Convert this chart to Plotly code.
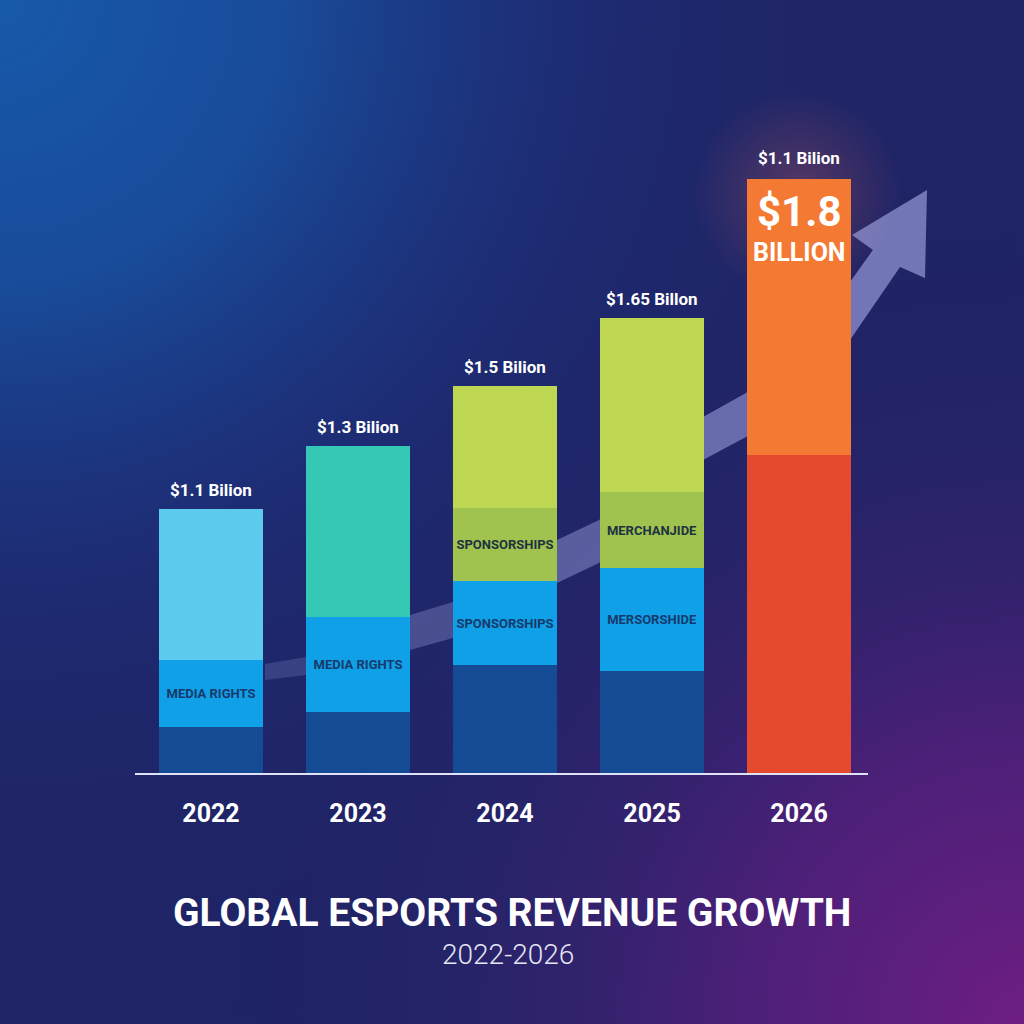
import base64
import plotly.graph_objects as go

# ---------------- data ----------------
years = ["2022", "2023", "2024", "2025", "2026"]
# stacked segment heights (chart units), bottom -> top
seg_base = [0.46, 0.61, 1.08, 1.02, 3.18]
seg_mid = [0.67, 0.95, 0.84, 1.03, 2.76]
seg_upper = [1.51, 1.71, 0.73, 0.76, None]
seg_top = [None, None, 1.22, 1.74, None]

base_colors = ["#154b94", "#154b94", "#154b94", "#154b94", "#e5492e"]
mid_colors = ["#10a0e8", "#10a0e8", "#10a0e8", "#10a0e8", "#f47a33"]
upper_colors = ["#5ccbee", "#35c8b5", "#a0c24f", "#a0c24f", "#a0c24f"]
top_colors = ["#bdd752"] * 5

mid_text = ["MEDIA RIGHTS", "MEDIA RIGHTS", "SPONSORSHIPS", "MERSORSHIDE", ""]
upper_text = ["", "", "SPONSORSHIPS", "MERCHANJIDE", ""]

value_labels = ["$1.1 Bilion", "$1.3 Bilion", "$1.5 Bilion", "$1.65 Billon", "$1.1 Bilion"]
highlight_value = "$1.8"
highlight_unit = "BILLION"
title_text = "GLOBAL ESPORTS REVENUE GROWTH"
subtitle_text = "2022-2026"

FONT = "Roboto, Liberation Sans, sans-serif"
W = H = 1024

# ---------------- background (svg gradient) ----------------
svg = f"""<svg xmlns='http://www.w3.org/2000/svg' width='{W}' height='{H}' viewBox='0 0 {W} {H}'>
<defs>
<radialGradient id='tl' gradientUnits='userSpaceOnUse' cx='0' cy='0' r='950'>
<stop offset='0' stop-color='#1759aa' stop-opacity='1'/>
<stop offset='0.3' stop-color='#1850a0' stop-opacity='0.9'/>
<stop offset='0.65' stop-color='#1c3482' stop-opacity='0.35'/>
<stop offset='1' stop-color='#1f2466' stop-opacity='0'/>
</radialGradient>
<radialGradient id='br' gradientUnits='userSpaceOnUse' cx='1024' cy='1024' r='820'>
<stop offset='0' stop-color='#6e1e82' stop-opacity='1'/>
<stop offset='0.35' stop-color='#561f7c' stop-opacity='0.8'/>
<stop offset='0.7' stop-color='#35226f' stop-opacity='0.3'/>
<stop offset='1' stop-color='#1f2466' stop-opacity='0'/>
</radialGradient>
<radialGradient id='glow' gradientUnits='userSpaceOnUse' cx='798' cy='195' r='105'>
<stop offset='0' stop-color='#d0605a' stop-opacity='0.32'/>
<stop offset='1' stop-color='#d0605a' stop-opacity='0'/>
</radialGradient>
</defs>
<rect width='{W}' height='{H}' fill='#1f2466'/>
<rect width='{W}' height='{H}' fill='url(#tl)'/>
<rect width='{W}' height='{H}' fill='url(#br)'/>
<rect width='{W}' height='{H}' fill='url(#glow)'/>
</svg>"""
bg_src = "data:image/svg+xml;base64," + base64.b64encode(svg.encode()).decode()

# ---------------- figure ----------------
fig = go.Figure()


def add_layer(vals, colors, texts=None, tcolors=None):
    fig.add_trace(go.Bar(
        x=list(range(len(years))), y=vals,
        marker=dict(color=colors, line=dict(width=0)),
        text=texts, textposition="inside", insidetextanchor="middle",
        textangle=0, constraintext="none",
        textfont=dict(family=FONT, size=13, color=tcolors, weight=700),
        width=0.707, hoverinfo="skip", showlegend=False,
    ))


add_layer(seg_base, base_colors)
add_layer(seg_mid, mid_colors, mid_text, ["#163a6c"] * 5)
add_layer(seg_upper, upper_colors, upper_text, ["#1d3340"] * 5)
add_layer(seg_top, top_colors)

totals = [sum(v for v in col if v) for col in zip(seg_base, seg_mid, seg_upper, seg_top)]

annotations = []
for i, (lab, tot) in enumerate(zip(value_labels, totals)):
    annotations.append(dict(x=i, y=tot, xref="x", yref="y", text=lab, showarrow=False,
                            yanchor="middle", yshift=21 if i == 4 else 19,
                            font=dict(family=FONT, size=17, color="white", weight=700)))
annotations.append(dict(x=4, y=totals[4], xref="x", yref="y", text=highlight_value, showarrow=False,
                        yanchor="middle", yshift=-32,
                        font=dict(family=FONT, size=42, color="white", weight=700)))
annotations.append(dict(x=4, y=totals[4], xref="x", yref="y", text=highlight_unit, showarrow=False,
                        yanchor="middle", yshift=-73,
                        font=dict(family=FONT, size=25, color="white", weight=700)))
annotations.append(dict(x=0.5, y=1 - 913 / H, xref="paper", yref="paper", text=title_text,
                        showarrow=False, yanchor="middle",
                        font=dict(family=FONT, size=39, color="white", weight=700)))
annotations.append(dict(x=0.496, y=1 - 954 / H, xref="paper", yref="paper", text=subtitle_text,
                        showarrow=False, yanchor="middle",
                        font=dict(family=FONT, size=28, color="#e6e6f4", weight=300)))


# ---------------- decorative growth arrow (paper coords) ----------------
def P(px, py):
    return f"{px / W:.4f},{1 - py / H:.4f}"


upper = [(265, 664), (306, 657), (358, 636), (410, 615), (453, 602), (505, 571), (557, 540),
         (599, 520), (651, 468), (703, 417), (746, 393), (798, 338), (850, 282)]
lower = [(265, 680), (306, 675), (358, 662), (410, 650), (453, 638), (505, 610), (557, 583),
         (599, 563), (651, 512), (703, 460), (746, 437), (798, 388), (850, 340)]
cuts = [(0, 2, 0.18), (2, 5, 0.28), (5, 8, 0.38), (8, 11, 0.48), (11, 12, 0.55)]
shapes = []
for a, b, alpha in cuts:
    pts = upper[a:b + 1] + lower[a:b + 1][::-1]
    path = "M " + " L ".join(P(*p) for p in pts) + " Z"
    shapes.append(dict(type="path", path=path, xref="paper", yref="paper", layer="below",
                       fillcolor=f"rgba(182,186,248,{alpha})", line=dict(width=0)))
head = [(850, 282), (873, 250), (852, 235), (927, 190), (925, 278), (900, 267), (850, 340)]
shapes.append(dict(type="path", path="M " + " L ".join(P(*p) for p in head) + " Z",
                   xref="paper", yref="paper", layer="below",
                   fillcolor="rgba(182,186,248,0.55)", line=dict(width=0)))

fig.update_layout(
    width=W, height=H,
    margin=dict(l=0, r=0, t=0, b=0),
    paper_bgcolor="#1f2466", plot_bgcolor="rgba(0,0,0,0)",
    barmode="stack", bargap=0,
    images=[dict(source=bg_src, xref="paper", yref="paper", x=0, y=1, sizex=1, sizey=1,
                 xanchor="left", yanchor="top", sizing="stretch", layer="below")],
    shapes=shapes,
    annotations=annotations,
    xaxis=dict(domain=[135 / W, 868 / W], range=[-0.517, 4.469],
               tickvals=list(range(len(years))), ticktext=years, ticks="",
               showgrid=False, zeroline=False, showline=True, linecolor="#dfe2f3", linewidth=2,
               tickfont=dict(family=FONT, size=25, color="white", weight=700),
               ticklabelstandoff=17, fixedrange=True),
    yaxis=dict(domain=[251 / H, 1], range=[0, 7.73], visible=False, fixedrange=True),
)

fig.write_html("out.html")
